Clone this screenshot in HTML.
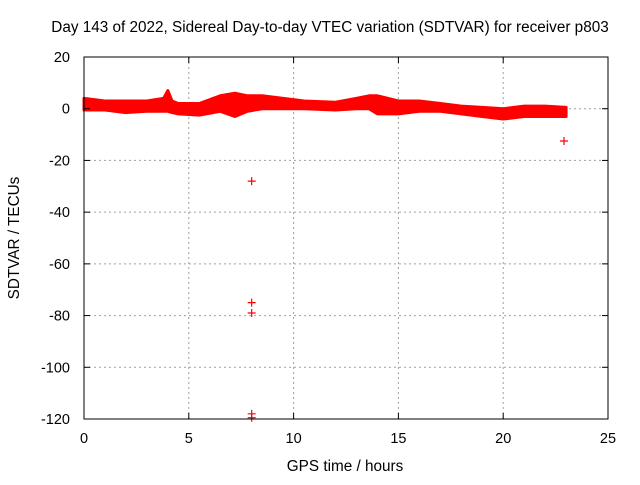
<!DOCTYPE html>
<html><head><meta charset="utf-8"><style>
body{margin:0;background:#fff}
svg text{font-family:"Liberation Sans",sans-serif;font-size:14.5px;fill:#000}
svg text.big{font-size:15.3px}
</style></head><body>
<svg id="chart" width="640" height="480">
<text class="big" x="330" y="32" text-anchor="middle">Day 143 of 2022, Sidereal Day-to-day VTEC variation (SDTVAR) for receiver p803</text>
<text class="big" x="345" y="471" text-anchor="middle">GPS time / hours</text>
<text class="big" transform="translate(19,238) rotate(-90)" text-anchor="middle">SDTVAR / TECUs</text>
<g id="grid"></g><g id="data"></g><g id="axes"></g>
</svg>
<script>
const xTicks=[0,5,10,15,20,25];
const yTicks=[20,0,-20,-40,-60,-80,-100,-120];
const bandTime=[0,1,2,3,3.8,4.0,4.2,4.5,5.5,6.5,7.2,7.8,8.5,9.5,10.5,12,13,13.6,14,15,16,17,18,19,20,21,22,23];
const bandUpper=[4,3,3,3,4,7,3,2,2,5,6,5,5,4,3,2.5,4,5,5,3,3,2,1,0.5,0,1,1,0.5];
const bandLower=[-0.5,-0.5,-1.5,-1,-1,-1,-1.5,-2,-2.5,-1,-3,-1,0,0,0,-0.5,0,0,-2,-2,-1,-1,-2,-3,-4,-3,-3,-3];
const outlierTime=[8.0,8.0,8.0,8.0,8.0,22.9];
const outlierValue=[-28,-75,-79,-118,-119.5,-12.5];
const L=84,R=608,T=57,B=419;
const xs=v=>L+(v-0)/25*(R-L);
const ys=v=>T+(20-v)/140*(B-T);
const NS="http://www.w3.org/2000/svg";
function mk(tag,attrs,parent){const e=document.createElementNS(NS,tag);for(const k in attrs)e.setAttribute(k,attrs[k]);parent.appendChild(e);return e;}
const grid=document.getElementById('grid'),axes=document.getElementById('axes'),data=document.getElementById('data');
xTicks.forEach(t=>{
  const x=xs(t);
  if(t>0&&t<25){const g=mk('line',{x1:x,x2:x,y1:T,y2:B,stroke:'#a0a0a0','stroke-dasharray':'2,3'},grid);
  
  }
  mk('line',{x1:x,x2:x,y1:B,y2:B-6,stroke:'#000'},axes);
  mk('line',{x1:x,x2:x,y1:T,y2:T+6,stroke:'#000'},axes);
  const l=mk('text',{x:x,y:B+24,'text-anchor':'middle'},axes);l.textContent=t;
  
  
});
yTicks.forEach(t=>{
  const y=ys(t);
  if(t<20&&t>-120){const g=mk('line',{x1:L,x2:R,y1:y,y2:y,stroke:'#a0a0a0','stroke-dasharray':'2,3'},grid);
  
  }
  mk('line',{x1:L,x2:L+6,y1:y,y2:y,stroke:'#000'},axes);
  mk('line',{x1:R,x2:R-6,y1:y,y2:y,stroke:'#000'},axes);
  const l=mk('text',{x:L-14,y:y+5,'text-anchor':'end'},axes);l.textContent=t;
  
  
});
const fr=mk('rect',{x:L,y:T,width:R-L,height:B-T,fill:'none',stroke:'#000'},axes);


let pts=[];
bandTime.forEach((t,i)=>pts.push(xs(t)+','+ys(bandUpper[i])));
for(let i=bandTime.length-1;i>=0;i--)pts.push(xs(bandTime[i])+','+ys(bandLower[i]));
const band=mk('polygon',{points:pts.join(' '),fill:'#ff0000',stroke:'#ff0000','stroke-width':3,'stroke-linejoin':'round'},data);


outlierTime.forEach((t,i)=>{
  const x=xs(t),y=ys(outlierValue[i]);
  const p=mk('path',{d:`M${x-4},${y}H${x+4}M${x},${y-4}V${y+4}`,stroke:'#ff0000','stroke-width':1.2},data);
  
  
});
</script>
</body></html>
